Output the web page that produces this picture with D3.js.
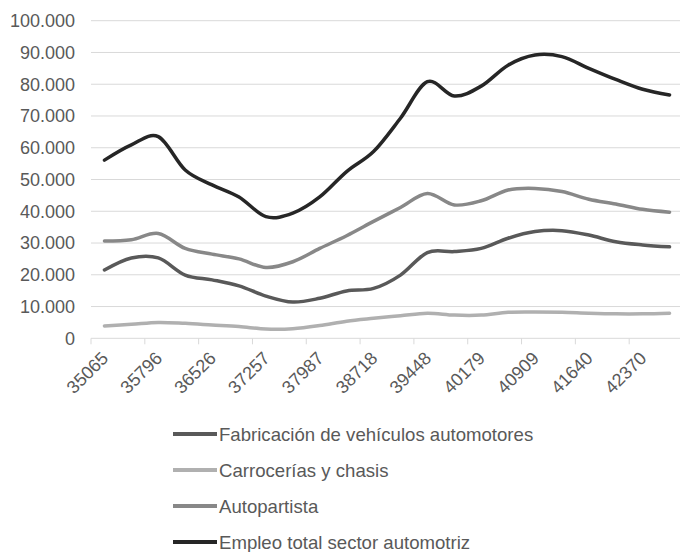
<!DOCTYPE html>
<html>
<head>
<meta charset="utf-8">
<script src="https://cdn.jsdelivr.net/npm/d3@7"></script>
<style>
  html, body { margin: 0; padding: 0; background: #fff; }
  svg { display: block; font-family: "Liberation Sans", Arial, sans-serif; }
</style>
</head>
<body>
<svg id="chart" width="680" height="552"></svg>
<script>
// Categories: Excel date serials, yearly 1996–2017
const categories = [35065, 35431, 35796, 36161, 36526, 36892, 37257, 37622, 37987, 38353, 38718,
                    39083, 39448, 39814, 40179, 40544, 40909, 41275, 41640, 42005, 42370, 42736];
const tickLabels = [35065, 35796, 36526, 37257, 37987, 38718, 39448, 40179, 40909, 41640, 42370];
const yTicks = [0, 10000, 20000, 30000, 40000, 50000, 60000, 70000, 80000, 90000, 100000];

const seriesNames = ["Fabricación de vehículos automotores", "Carrocerías y chasis", "Autopartista", "Empleo total sector automotriz"];
const seriesColors = ["#595959", "#b0b0b0", "#888888", "#262626"];

const fabricacion = [21500, 25300, 25300, 19900, 18400, 16500, 13300, 11400, 12600, 14900, 15700,
                     19900, 27000, 27300, 28300, 31500, 33600, 33900, 32500, 30400, 29400, 28800];
const carrocerias = [3900, 4400, 5000, 4700, 4200, 3700, 2900, 3000, 4000, 5400, 6300,
                     7100, 7900, 7300, 7300, 8200, 8300, 8200, 7900, 7700, 7700, 7900];
const autopartista = [30600, 31000, 33000, 28300, 26500, 25000, 22300, 24100, 28300, 32300, 36800,
                      41200, 45600, 42000, 43300, 46700, 47200, 46200, 43800, 42300, 40600, 39700];
const empleoTotal = [56100, 60900, 63500, 53000, 48300, 44500, 38300, 39400, 44500, 52500, 58800,
                     69300, 80800, 76300, 79400, 86000, 89200, 88700, 85000, 81500, 78400, 76600];

const seriesValues = [fabricacion, carrocerias, autopartista, empleoTotal];

const svg = d3.select("#chart");
const mLeft = 91, mRight = 683, mTop = 20.7, mBottom = 338.3;

const x = d3.scaleBand().domain(categories).range([mLeft, mRight]).padding(0);
const y = d3.scaleLinear().domain([0, 100000]).range([mBottom, mTop]);
const cx = d => x(d) + x.bandwidth() / 2;

const fmt = v => d3.format(",")(v).replace(/,/g, ".");

// gridlines
svg.append("g").selectAll("line").data(yTicks).join("line")
  .attr("x1", mLeft).attr("x2", 680)
  .attr("y1", d => y(d)).attr("y2", d => y(d))
  .attr("stroke", "#d9d9d9").attr("stroke-width", 1);

// y labels
svg.append("g").selectAll("text").data(yTicks).join("text")
  .attr("x", 75).attr("y", d => y(d)).attr("dy", "0.35em")
  .attr("text-anchor", "end").attr("fill", "#595959").attr("font-size", 18)
  .text(d => fmt(d));

// x axis ticks at band boundaries every 2 categories
const tickIdx = d3.range(0, categories.length, 2);
svg.append("g").selectAll("line").data(tickIdx).join("line")
  .attr("x1", i => x(categories[i])).attr("x2", i => x(categories[i]))
  .attr("y1", mBottom).attr("y2", mBottom + 6)
  .attr("stroke", "#d9d9d9").attr("stroke-width", 1);

// x labels
svg.append("g").selectAll("text").data(tickLabels).join("text")
  .attr("transform", d => `translate(${cx(d) + 5},${mBottom + 21}) rotate(-45)`)
  .attr("text-anchor", "end").attr("fill", "#595959").attr("font-size", 18)
  .text(d => d);

// lines
const line = d3.line()
  .x((d, i) => cx(categories[i]))
  .y(d => y(d))
  .curve(d3.curveCatmullRom.alpha(0));

svg.append("g").selectAll("path").data(seriesValues).join("path")
  .attr("d", d => line(d))
  .attr("fill", "none")
  .attr("stroke", (d, i) => seriesColors[i])
  .attr("stroke-width", 3.5)
  .attr("stroke-linejoin", "round")
  .attr("stroke-linecap", "round");

// legend
const lg = svg.append("g").selectAll("g").data(seriesNames).join("g")
  .attr("transform", (d, i) => `translate(0,${434 + i * 36})`);
lg.append("line").attr("x1", 173).attr("x2", 217).attr("y1", 0).attr("y2", 0)
  .attr("stroke", (d, i) => seriesColors[i]).attr("stroke-width", 4);
lg.append("text").attr("x", 219).attr("y", 0).attr("dy", "0.35em")
  .attr("fill", "#595959").attr("font-size", 18.6).text(d => d);
</script>
</body>
</html>
